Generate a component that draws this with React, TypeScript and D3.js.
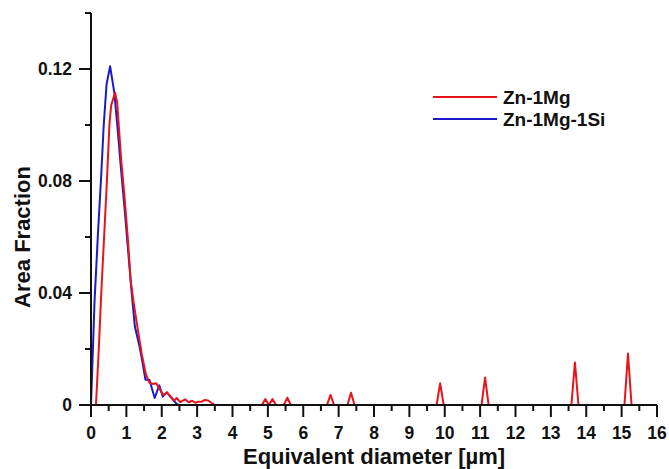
import React from "react";
import * as d3 from "d3";

const seriesNames = ["Zn-1Mg", "Zn-1Mg-1Si"];
const seriesColors = ["#e8141c", "#1a1ac8"];

// Zn-1Mg  [diameter µm, area fraction]
const znMg: [number, number][] = [
  [0, 0], [0.14, 0], [0.22, 0.02], [0.29, 0.04], [0.37, 0.06], [0.45, 0.08], [0.52, 0.1],
  [0.57, 0.107], [0.68, 0.1115], [0.74, 0.108], [0.85, 0.088], [0.95, 0.074], [1.05, 0.058],
  [1.12, 0.0446], [1.2, 0.037], [1.31, 0.028], [1.43, 0.0185], [1.55, 0.011], [1.65, 0.008],
  [1.75, 0.0075], [1.84, 0.0078], [1.95, 0.0055], [2.05, 0.0035], [2.15, 0.0045], [2.25, 0.003],
  [2.35, 0.0015], [2.42, 0.0025], [2.52, 0.001], [2.66, 0.002], [2.76, 0.001], [2.86, 0.0015],
  [2.95, 0.0008], [3.03, 0.0012], [3.13, 0.0012], [3.22, 0.0018], [3.31, 0.0016], [3.4, 0.0008],
  [3.5, 0], [4.83, 0], [4.93, 0.0021], [5.03, 0], [5.13, 0.0021], [5.23, 0], [5.45, 0],
  [5.55, 0.0026], [5.65, 0], [6.67, 0], [6.77, 0.0036], [6.87, 0], [7.25, 0], [7.35, 0.0044],
  [7.45, 0], [9.77, 0], [9.87, 0.0078], [9.97, 0], [11.04, 0], [11.14, 0.0098], [11.24, 0],
  [13.58, 0], [13.68, 0.0152], [13.78, 0], [15.08, 0], [15.18, 0.0184], [15.28, 0], [16, 0],
];

// Zn-1Mg-1Si  [diameter µm, area fraction]
const znMgSi: [number, number][] = [
  [0, 0], [0.1, 0.037], [0.2, 0.062], [0.28, 0.08], [0.36, 0.1], [0.44, 0.1145], [0.54, 0.121],
  [0.66, 0.1115], [0.75, 0.099], [0.85, 0.084], [0.95, 0.07], [1.05, 0.055], [1.15, 0.04],
  [1.24, 0.028], [1.37, 0.021], [1.43, 0.017], [1.54, 0.009], [1.65, 0.009], [1.8, 0.0025],
  [1.93, 0.007], [2.03, 0.003], [2.14, 0.0045], [2.28, 0.0025], [2.4, 0.0007], [2.47, 0], [16, 0],
];

const xMajorTicks = d3.range(0, 17, 1);
const xMinorTicks = d3.range(0.5, 16, 1);
const yMajorTicks = [0, 0.04, 0.08, 0.12];
const yMinorTicks = [0.02, 0.06, 0.1, 0.14];
const yTickLabels = ["0", "0.04", "0.08", "0.12"];

const W = 669;
const H = 469;
const FONT = "'Liberation Sans', Arial, sans-serif";

export default function App() {
  const x = d3.scaleLinear().domain([0, 16]).range([91, 657]);
  const y = d3.scaleLinear().domain([0, 0.14]).range([405, 13]);
  const line = d3
    .line<[number, number]>()
    .x((d) => x(d[0]))
    .y((d) => y(d[1]));

  const majorLen = 12;
  const minorLen = 6;

  return (
    <svg
      width={W}
      height={H}
      style={{ position: "absolute", left: 0, top: 0, background: "#fff" }}
      fontFamily={FONT}
      fontWeight="bold"
    >
      {/* data: blue below, red on top */}
      <path d={line(znMgSi) || ""} fill="none" stroke={seriesColors[1]} strokeWidth={2} strokeLinejoin="round" />
      <path d={line(znMg) || ""} fill="none" stroke={seriesColors[0]} strokeWidth={2} strokeLinejoin="round" />

      {/* axes */}
      <line x1={x(0)} x2={x(16)} y1={y(0)} y2={y(0)} stroke="#111" strokeWidth={2} />
      <line x1={x(0)} x2={x(0)} y1={y(0)} y2={y(0.14)} stroke="#111" strokeWidth={2} />

      {xMajorTicks.map((t) => (
        <g key={"xm" + t}>
          <line x1={x(t)} x2={x(t)} y1={y(0)} y2={y(0) + majorLen} stroke="#111" strokeWidth={2} />
          <text x={x(t)} y={439} textAnchor="middle" fontSize={17.5} fill="#111">
            {t}
          </text>
        </g>
      ))}
      {xMinorTicks.map((t) => (
        <line key={"xn" + t} x1={x(t)} x2={x(t)} y1={y(0)} y2={y(0) + minorLen} stroke="#111" strokeWidth={2} />
      ))}

      {yMajorTicks.map((t, i) => (
        <g key={"ym" + t}>
          <line x1={x(0) - majorLen} x2={x(0)} y1={y(t)} y2={y(t)} stroke="#111" strokeWidth={2} />
          <text x={72} y={y(t)} dy="0.35em" textAnchor="end" fontSize={17.5} fill="#111">
            {yTickLabels[i]}
          </text>
        </g>
      ))}
      {yMinorTicks.map((t) => (
        <line key={"yn" + t} x1={x(0) - minorLen} x2={x(0)} y1={y(t)} y2={y(t)} stroke="#111" strokeWidth={2} />
      ))}

      {/* axis titles */}
      <text x={374} y={464} textAnchor="middle" fontSize={22} fill="#111">
        Equivalent diameter [µm]
      </text>
      <text transform="translate(30,237) rotate(-90)" textAnchor="middle" fontSize={22} fill="#111">
        Area Fraction
      </text>

      {/* legend */}
      {seriesNames.map((name, i) => (
        <g key={name}>
          <line x1={433} x2={497} y1={97 + i * 22} y2={97 + i * 22} stroke={seriesColors[i]} strokeWidth={2} />
          <text x={503} y={97 + i * 22} dy="0.35em" fontSize={19} fill="#111">
            {name}
          </text>
        </g>
      ))}
    </svg>
  );
}
